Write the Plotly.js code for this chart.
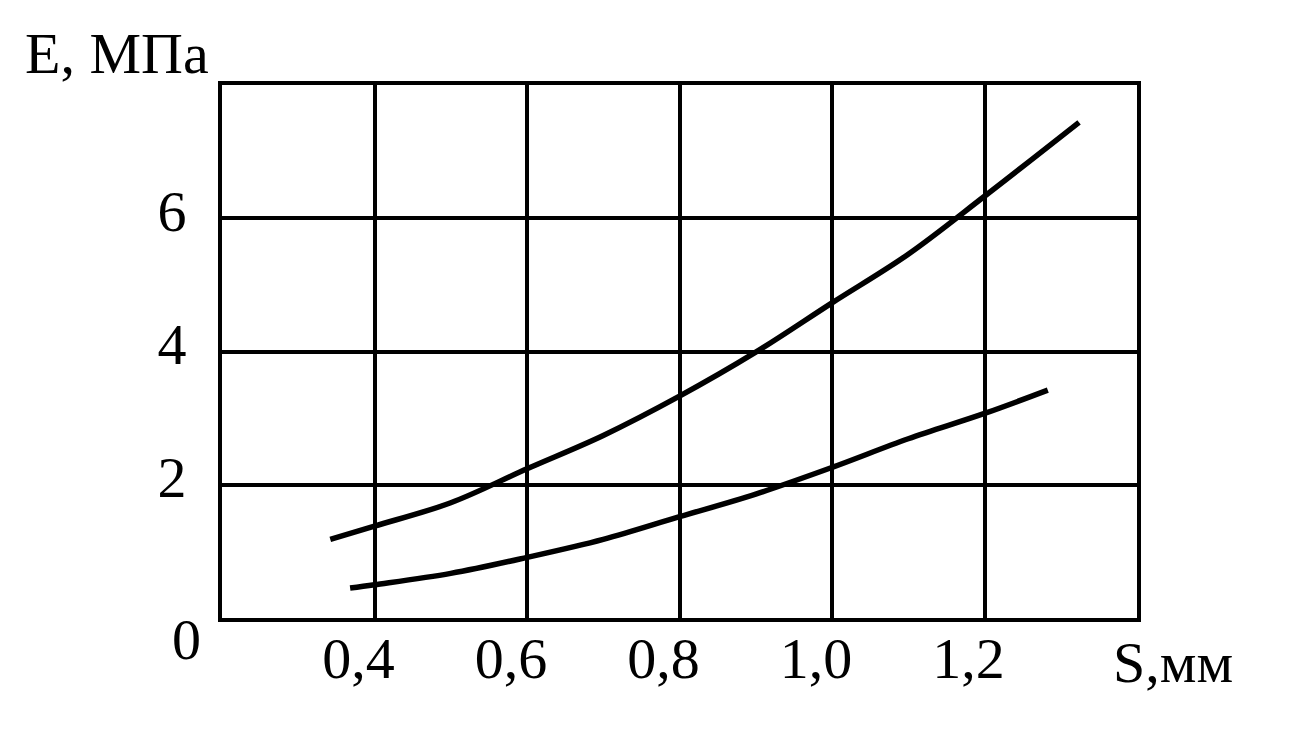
<!DOCTYPE html>
<html>
<head>
<meta charset="utf-8">
<script src="https://cdn.plot.ly/plotly-3.0.1.min.js"></script>
<style>html,body{margin:0;padding:0;background:#fff;}#chart{width:1296px;height:730px;}</style>
</head>
<body>
<div id="chart"></div>
<script>
// Upper curve
const upperS = [0.342, 0.4, 0.5, 0.6, 0.7, 0.8, 0.9, 1.0, 1.1, 1.2, 1.324];
const upperE = [1.18, 1.38, 1.73, 2.24, 2.74, 3.33, 3.99, 4.73, 5.46, 6.33, 7.44];
// Lower curve
const lowerS = [0.368, 0.4, 0.5, 0.6, 0.7, 0.8, 0.9, 1.0, 1.1, 1.2, 1.283];
const lowerE = [0.45, 0.50, 0.67, 0.91, 1.18, 1.52, 1.86, 2.26, 2.69, 3.07, 3.42];
// Ticks
const xTickVals = [0.4, 0.6, 0.8, 1.0, 1.2];
const xTickText = ['0,4', '0,6', '0,8', '1,0', '1,2'];
const yTickVals = [2, 4, 6];
const yTickText = ['2', '4', '6'];
const yZeroVals = [0];
const yZeroText = ['0'];
const xTitle = 'S,мм';
const yTitle = 'E, МПа';

const FONT = '"Liberation Serif", "Times New Roman", serif';

const traces = [
  {x: upperS, y: upperE, type: 'scatter', mode: 'lines',
   line: {color: '#000', width: 5.5, shape: 'spline', smoothing: 1}, showlegend: false, hoverinfo: 'skip'},
  {x: lowerS, y: lowerE, type: 'scatter', mode: 'lines',
   line: {color: '#000', width: 5.5, shape: 'spline', smoothing: 1}, showlegend: false, hoverinfo: 'skip'},
  {x: [0.2], y: [0], yaxis: 'y2', type: 'scatter', mode: 'markers',
   marker: {opacity: 0}, showlegend: false, hoverinfo: 'skip'}
];

const layout = {
  width: 1296, height: 730,
  margin: {l: 222, r: 159, t: 85, b: 112},
  paper_bgcolor: '#fff', plot_bgcolor: '#fff',
  font: {family: FONT, color: '#000', size: 58},
  showlegend: false,
  title: {text: yTitle, font: {family: FONT, size: 58, color: '#000'},
          x: 25/1296, xanchor: 'left', xref: 'container', y: 1 - 53/730, yanchor: 'middle', yref: 'container'},
  xaxis: {
    range: [0.2, 1.4], tickvals: xTickVals, ticktext: xTickText,
    showgrid: true, gridcolor: '#000', gridwidth: 4,
    showline: true, linecolor: '#000', linewidth: 4, mirror: true,
    zeroline: false, ticks: '', ticklabelshift: -16, ticklabelstandoff: -14,
    tickfont: {family: FONT, size: 58, color: '#000'}
  },
  yaxis: {
    range: [0, 8], tickvals: yTickVals, ticktext: yTickText,
    showgrid: true, gridcolor: '#000', gridwidth: 4,
    showline: true, linecolor: '#000', linewidth: 4, mirror: true,
    zeroline: false, ticks: '', ticklabelshift: -8, ticklabelstandoff: 20,
    tickfont: {family: FONT, size: 58, color: '#000'}
  },
  yaxis2: {
    range: [0, 8], overlaying: 'y', side: 'left', tickvals: yZeroVals, ticktext: yZeroText,
    showgrid: false, showline: false, zeroline: false, ticks: '',
    ticklabelshift: 21, ticklabelstandoff: 20,
    tickfont: {family: FONT, size: 58, color: '#000'}
  },
  annotations: [
    {text: xTitle, xref: 'paper', yref: 'paper', x: (1173 - 222) / 915, y: -44/533,
     xanchor: 'center', yanchor: 'middle', showarrow: false,
     font: {family: FONT, size: 58, color: '#000'}}
  ]
};

Plotly.newPlot('chart', traces, layout, {staticPlot: true, displayModeBar: false});
</script>
</body>
</html>
